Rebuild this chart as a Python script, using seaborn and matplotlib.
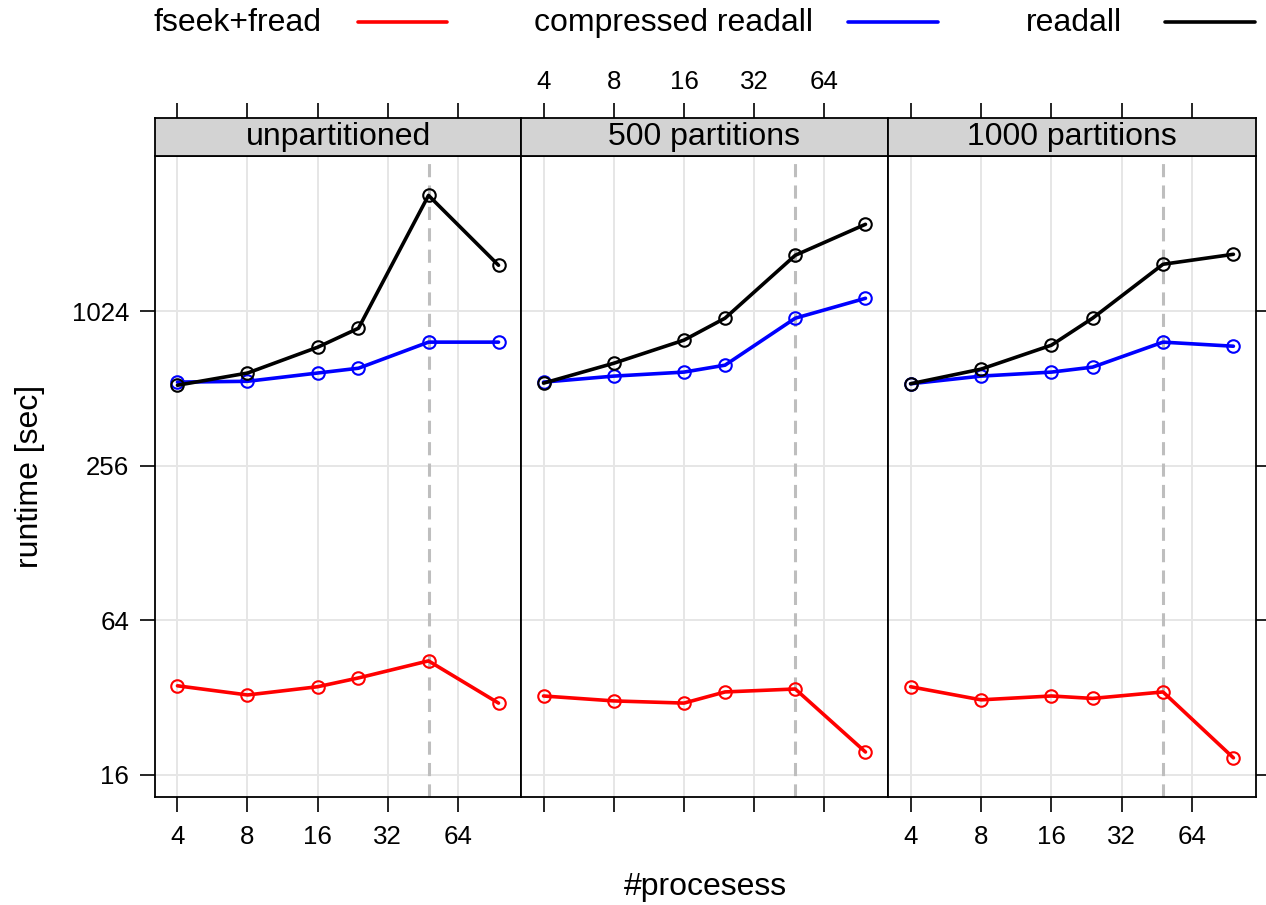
import numpy as np
import pandas as pd
import matplotlib
matplotlib.use("Agg")
import matplotlib.pyplot as plt
import seaborn as sns
from matplotlib.lines import Line2D
from matplotlib.ticker import FixedLocator, NullLocator, FixedFormatter

# ---------------- data ----------------
panels = ["unpartitioned", "500 partitions", "1000 partitions"]
methods = ["fseek+fread", "compressed readall", "readall"]
procs = [4, 8, 16, 24, 48, 96]

fseek_unpart = [35.5, 32.7, 35.2, 38.1, 44.4, 30.4]
compr_unpart = [542, 546, 588, 614, 776, 776]
readall_unpart = [527, 588, 741, 879, 2896, 1547]

fseek_500 = [32.4, 31.0, 30.4, 33.6, 34.5, 19.6]
compr_500 = [542, 572, 593, 631, 962, 1150]
readall_500 = [537, 642, 790, 962, 1692, 2234]

fseek_1000 = [35.2, 31.3, 32.4, 31.7, 33.6, 18.6]
compr_1000 = [534, 572, 593, 620, 776, 748]
readall_1000 = [534, 609, 755, 962, 1561, 1707]

x_ticks = [4, 8, 16, 32, 64]
y_ticks = [16, 64, 256, 1024]
ref_procs = 48

colors = {"fseek+fread": "#ff0000", "compressed readall": "#0000ff", "readall": "#000000"}

series = {
    "unpartitioned": [fseek_unpart, compr_unpart, readall_unpart],
    "500 partitions": [fseek_500, compr_500, readall_500],
    "1000 partitions": [fseek_1000, compr_1000, readall_1000],
}
rows = []
for p in panels:
    for m, vals in zip(methods, series[p]):
        for x, v in zip(procs, vals):
            rows.append({"panel": p, "method": m, "procs": x, "runtime": v})
df = pd.DataFrame(rows)

# ---------------- style ----------------
sns.set_style("white")
plt.rcParams["font.family"] = ["Liberation Sans", "DejaVu Sans"]
plt.rcParams["text.color"] = "black"
plt.rcParams["xtick.color"] = "black"
plt.rcParams["ytick.color"] = "black"

W, H = 1266, 905
fig = plt.figure(figsize=(W / 100, H / 100), dpi=100)

lefts = [155, 521, 888]
rights = [521, 888, 1256]
p_top, p_bot, s_top = 156, 797, 118

lx = np.log2(min(procs)); hx = np.log2(max(procs))
ext = 0.07 * (hx - lx)
xlim = (2 ** (lx - ext), 2 ** (hx + ext))
ylim = (2 ** 3.71, 2 ** 12.01)

TICK_FS = 18.6
BIG_FS = 23
SPINE_LW = 1.3
TICK_LEN = 10.5
LINE_W = 2.6

for i, p in enumerate(panels):
    l, r = lefts[i], rights[i]
    ax = fig.add_axes([l / W, (H - p_bot) / H, (r - l) / W, (p_bot - p_top) / H])
    sax = fig.add_axes([l / W, (H - p_top) / H, (r - l) / W, (p_top - s_top) / H])

    for a in (ax, sax):
        a.set_xscale("log", base=2)
        a.set_xlim(*xlim)
        a.xaxis.set_major_locator(FixedLocator(x_ticks))
        a.xaxis.set_minor_locator(NullLocator())
        for s in a.spines.values():
            s.set_linewidth(SPINE_LW)
            s.set_color("black")
    ax.set_yscale("log", base=2)
    ax.set_ylim(*ylim)
    ax.yaxis.set_major_locator(FixedLocator(y_ticks))
    ax.yaxis.set_minor_locator(NullLocator())
    ax.xaxis.set_major_formatter(FixedFormatter([str(t) for t in x_ticks]))
    ax.yaxis.set_major_formatter(FixedFormatter([str(t) for t in y_ticks]))
    sax.xaxis.set_major_formatter(FixedFormatter([str(t) for t in x_ticks]))

    # grid
    ax.set_axisbelow(True)
    ax.grid(True, which="major", color="#e6e6e6", linewidth=1.4)

    # reference line
    ax.axvline(ref_procs, color="#bebebe", linewidth=2.2, dashes=(4.3, 2.7), zorder=1.5)

    sub = df[df["panel"] == p]
    sns.lineplot(data=sub, x="procs", y="runtime", hue="method", hue_order=methods,
                 palette=colors, marker="o", markersize=9, linewidth=LINE_W,
                 errorbar=None, legend=False, ax=ax, zorder=3)
    for ln in ax.lines:
        if ln.get_marker() == "o":
            ln.set_markeredgecolor(ln.get_color())
            ln.set_markerfacecolor("none")
            ln.set_markeredgewidth(1.5)
    ax.set_xlabel("")
    ax.set_ylabel("")

    ax.tick_params(axis="x", which="major", bottom=True, top=False,
                   labelbottom=(i != 1), labeltop=False, direction="out",
                   length=TICK_LEN, width=1.2, labelsize=TICK_FS, pad=10)
    ax.tick_params(axis="y", which="major", left=(i == 0), right=(i == 2),
                   labelleft=(i == 0), labelright=False, direction="out",
                   length=TICK_LEN, width=1.2, labelsize=TICK_FS, pad=8)

    # strip
    sax.set_facecolor("#d3d3d3")
    sax.set_yticks([])
    sax.tick_params(axis="x", which="major", bottom=False, top=True,
                    labelbottom=False, labeltop=(i == 1), direction="out",
                    length=TICK_LEN, width=1.2, labelsize=TICK_FS, pad=7)
    sax.text(0.5, 0.5, p, transform=sax.transAxes, ha="center", va="center",
             fontsize=BIG_FS)

# legend (top)
leg_items = [("fseek+fread", 322, 358, 447),
             ("compressed readall", 813, 848, 938),
             ("readall", 1122, 1165, 1255)]
ly = 1 - 22 / H
for name, tx, x0, x1 in leg_items:
    fig.text(tx / W, 1 - 23 / H, name, ha="right", va="center", fontsize=BIG_FS)
    fig.add_artist(Line2D([x0 / W, x1 / W], [ly, ly], transform=fig.transFigure,
                          color=colors[name], linewidth=LINE_W))

fig.text(705 / W, 1 - 887 / H, "#procesess", ha="center", va="center", fontsize=BIG_FS)
fig.text(30 / W, 1 - 476 / H, "runtime [sec]", ha="center", va="center",
         rotation=90, fontsize=BIG_FS)

fig.savefig("out.png", dpi=100, facecolor="white")
